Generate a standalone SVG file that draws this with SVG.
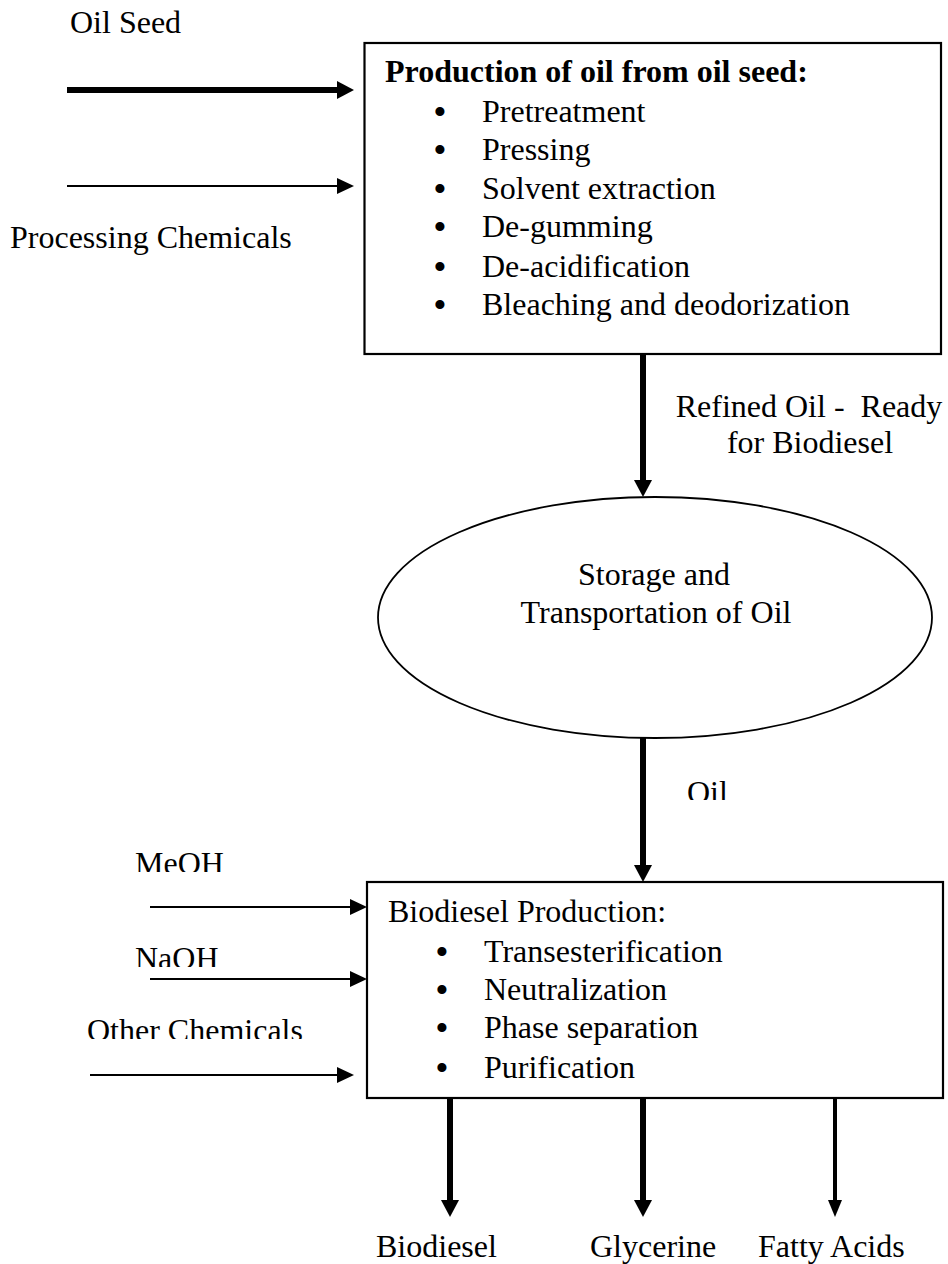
<svg xmlns="http://www.w3.org/2000/svg" width="948" height="1264" viewBox="0 0 948 1264">
<style>
  .t { font-family: "Liberation Serif", "Times New Roman", serif; font-size: 32px; fill: #000; }
  .b { font-weight: bold; }
  .mid { text-anchor: middle; }
  .bul { font-family: "Liberation Serif", "Times New Roman", serif; font-size: 38px; fill: #000; text-anchor: middle; }
  .box { fill: #fff; stroke: #000; stroke-width: 2.2; }
  .ell { fill: #fff; stroke: #000; stroke-width: 1.8; }
  .thick { stroke: #000; stroke-width: 6; fill: none; }
  .mid4 { stroke: #000; stroke-width: 4; fill: none; }
  .thin { stroke: #000; stroke-width: 2; fill: none; }
</style>
<defs>
  <marker id="hThick" markerUnits="userSpaceOnUse" markerWidth="17" markerHeight="18" refX="0" refY="9" orient="auto" overflow="visible">
    <path d="M0,0 L17,9 L0,18 Z" fill="#000"/>
  </marker>
  <marker id="hThin" markerUnits="userSpaceOnUse" markerWidth="17" markerHeight="16" refX="0" refY="8" orient="auto" overflow="visible">
    <path d="M0,0 L17,8 L0,16 Z" fill="#000"/>
  </marker>
  <marker id="hMid" markerUnits="userSpaceOnUse" markerWidth="17" markerHeight="14" refX="0" refY="7" orient="auto" overflow="visible">
    <path d="M0,0 L17,7 L0,14 Z" fill="#000"/>
  </marker>
  <clipPath id="clipOil"><rect x="600" y="760" width="200" height="40"/></clipPath>
  <clipPath id="clipMeOH"><rect x="100" y="830" width="200" height="42"/></clipPath>
  <clipPath id="clipNaOH"><rect x="100" y="925" width="200" height="42"/></clipPath>
  <clipPath id="clipOther"><rect x="60" y="1000" width="300" height="39"/></clipPath>
</defs>

<g id="connectors">
  <line class="thick" x1="67" y1="90" x2="337" y2="90" marker-end="url(#hThick)"/>
  <line class="thin" x1="67" y1="186" x2="337" y2="186" marker-end="url(#hThin)"/>
  <line class="thick" x1="643" y1="354" x2="643" y2="480" marker-end="url(#hThick)"/>
  <line class="thick" x1="643" y1="738" x2="643" y2="865" marker-end="url(#hThick)"/>
  <line class="thin" x1="150" y1="907" x2="350" y2="907" marker-end="url(#hThin)"/>
  <line class="thin" x1="150" y1="979" x2="350" y2="979" marker-end="url(#hThin)"/>
  <line class="thin" x1="90" y1="1075" x2="337" y2="1075" marker-end="url(#hThin)"/>
  <line class="thick" x1="450" y1="1098" x2="450" y2="1200" marker-end="url(#hThick)"/>
  <line class="thick" x1="643" y1="1098" x2="643" y2="1200" marker-end="url(#hThick)"/>
  <line class="mid4" x1="835" y1="1098" x2="835" y2="1200" marker-end="url(#hMid)"/>
</g>

<g id="label-oil-seed"><text class="t" x="70" y="33">Oil Seed</text></g>
<g id="label-processing-chemicals"><text class="t" x="10" y="248">Processing Chemicals</text></g>

<g id="node-oil-production">
  <rect class="box" x="364.5" y="43" width="576.5" height="311"/>
  <text class="t b" x="385" y="82">Production of oil from oil seed:</text>
  <text class="bul" x="440" y="125">•</text><text class="t" x="482" y="122">Pretreatment</text>
  <text class="bul" x="440" y="163">•</text><text class="t" x="482" y="160">Pressing</text>
  <text class="bul" x="440" y="202">•</text><text class="t" x="482" y="199">Solvent extraction</text>
  <text class="bul" x="440" y="240">•</text><text class="t" x="482" y="237">De-gumming</text>
  <text class="bul" x="440" y="280">•</text><text class="t" x="482" y="277">De-acidification</text>
  <text class="bul" x="440" y="318">•</text><text class="t" x="482" y="315">Bleaching and deodorization</text>
</g>

<g id="label-refined-oil">
  <text class="t mid" x="809" y="417" xml:space="preserve">Refined Oil -  Ready</text>
  <text class="t mid" x="810" y="453">for Biodiesel</text>
</g>

<g id="node-storage">
  <ellipse class="ell" cx="655" cy="617.5" rx="277" ry="120.5"/>
  <text class="t mid" x="654" y="585">Storage and</text>
  <text class="t mid" x="656" y="623">Transportation of Oil</text>
</g>

<g id="label-oil"><text class="t" x="687" y="803" clip-path="url(#clipOil)">Oil</text></g>
<g id="label-meoh"><text class="t" x="135" y="874" clip-path="url(#clipMeOH)">MeOH</text></g>
<g id="label-naoh"><text class="t" x="135" y="969" clip-path="url(#clipNaOH)">NaOH</text></g>
<g id="label-other-chemicals"><text class="t" x="87" y="1041" clip-path="url(#clipOther)">Other Chemicals</text></g>

<g id="node-biodiesel-production">
  <rect class="box" x="367" y="882" width="576" height="216"/>
  <text class="t" x="388" y="922">Biodiesel Production:</text>
  <text class="bul" x="442" y="965">•</text><text class="t" x="484" y="962">Transesterification</text>
  <text class="bul" x="442" y="1003">•</text><text class="t" x="484" y="1000">Neutralization</text>
  <text class="bul" x="442" y="1041">•</text><text class="t" x="484" y="1038">Phase separation</text>
  <text class="bul" x="442" y="1081">•</text><text class="t" x="484" y="1078">Purification</text>
</g>

<g id="output-biodiesel"><text class="t" x="376" y="1257">Biodiesel</text></g>
<g id="output-glycerine"><text class="t" x="590" y="1257">Glycerine</text></g>
<g id="output-fatty-acids"><text class="t" x="758" y="1257">Fatty Acids</text></g>
</svg>
